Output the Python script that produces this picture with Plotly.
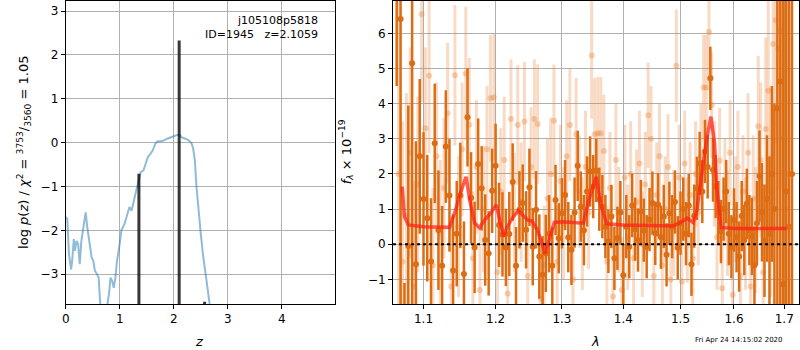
import numpy as np
import plotly.graph_objects as go

# ---------------- data: left panel (p(z)) ----------------
z_grid = [0, 0.03, 0.06, 0.10, 0.12, 0.15, 0.17, 0.20, 0.23, 0.26, 0.29, 0.33, 0.36, 0.37,
          0.40, 0.43, 0.48, 0.51, 0.54, 0.58, 0.61, 0.64, 0.66, 0.75, 0.77, 0.80, 0.83, 0.86,
          0.89, 0.92, 0.95, 1.00, 1.03, 1.09, 1.14, 1.18, 1.22, 1.26, 1.30, 1.35, 1.39, 1.44,
          1.47, 1.52, 1.57, 1.61, 1.66, 1.70, 1.76, 1.82, 1.88, 1.95, 2.01, 2.07, 2.11, 2.16,
          2.22, 2.28, 2.33, 2.36, 2.39, 2.42, 2.46, 2.50, 2.54, 2.60, 2.65, 2.68, 2.72]
log_pz = [-1.70, -1.74, -2.54, -2.89, -2.69, -2.20, -2.47, -2.24, -2.31, -2.77, -2.24, -1.93,
          -1.63, -1.59, -1.93, -2.24, -2.62, -2.69, -2.92, -3.00, -3.08, -3.70, -4.50, -4.50,
          -3.70, -3.46, -3.08, -3.15, -3.31, -3.08, -2.69, -2.31, -2.00, -1.85, -1.63, -1.47,
          -1.55, -1.32, -1.09, -0.86, -0.67, -0.63, -0.52, -0.33, -0.25, -0.18, -0.02, 0.03,
          0.03, 0.05, 0.09, 0.13, 0.15, 0.18, 0.17, 0.11, 0.09, 0.05, -0.02, -0.14, -0.40,
          -1.00, -1.63, -2.08, -2.54, -3.08, -3.53, -3.70, -4.20]
stem_z = [1.355, 2.10, 2.57]
stem_top = [-0.71, 2.33, -3.63]
stem_base = -10.0

# ---------------- data: right panel (spectrum) ----------------
lam_dark = [1.065, 1.070, 1.075, 1.080, 1.085, 1.090, 1.095, 1.100, 1.105, 1.110,
            1.115, 1.120, 1.125, 1.130, 1.135, 1.140, 1.145, 1.150, 1.155, 1.160,
            1.165, 1.170, 1.175, 1.180, 1.185, 1.190, 1.195, 1.200, 1.205, 1.210,
            1.215, 1.220, 1.225, 1.230, 1.235, 1.240, 1.245, 1.250, 1.255, 1.260,
            1.265, 1.270, 1.275, 1.280, 1.285, 1.290, 1.295, 1.300, 1.305, 1.310,
            1.315, 1.320, 1.325, 1.330, 1.335, 1.340, 1.345, 1.350, 1.355, 1.360,
            1.365, 1.370, 1.375, 1.380, 1.385, 1.390, 1.395, 1.400, 1.405, 1.410,
            1.415, 1.420, 1.425, 1.430, 1.435, 1.440, 1.445, 1.450, 1.455, 1.460,
            1.465, 1.470, 1.475, 1.480, 1.485, 1.490, 1.495, 1.500, 1.505, 1.510,
            1.515, 1.520, 1.525, 1.530, 1.535, 1.540, 1.545, 1.550, 1.555, 1.560,
            1.565, 1.570, 1.575, 1.580, 1.585, 1.590, 1.595, 1.600, 1.605, 1.610,
            1.615, 1.620, 1.625, 1.630, 1.635, 1.640, 1.645, 1.650, 1.655, 1.660,
            1.665, 1.670, 1.675, 1.680, 1.686, 1.692, 1.698, 1.704, 1.710, 1.716]
flux_dark = [7.50, 6.41, -3.00, -0.05, 5.15, -0.57, 2.50, 1.29, 0.74, -0.49,
             2.87, 0.40, -0.61, 2.78, 1.39, -0.75, 0.30, 1.39, -0.85, 3.61,
             1.32, -0.09, 2.28, 1.59, 0.12, -0.26, 1.52, 2.23, 0.55, 0.28,
             -0.09, 0.29, 1.77, -0.61, 0.98, 1.17, 0.41, 1.62, -0.07, 0.98,
             -0.35, -0.87, -0.26, 0.30, -0.61, 1.26, 0.17, 0.88, 1.40, 0.20,
             -0.16, 0.90, 2.23, 1.07, 0.40, 1.50, 2.07, 1.64, 2.10, 1.28,
             1.07, 0.50, 0.08, 0.79, -0.40, 0.17, 0.90, -0.88, 0.50, -0.07,
             1.10, 0.43, 0.12, 0.93, 0.40, -0.07, 0.70, 1.17, 0.31, 1.12,
             0.20, 0.79, -0.30, 0.88, 0.50, 1.20, -0.10, 0.60, 1.00, 0.30,
             1.10, -0.57, 0.80, 1.59, 2.30, 1.50, 2.64, 2.20, 4.72, 2.11,
             1.64, 0.90, 0.36, 1.00, 1.50, 0.30, -0.07, 0.69, 0.20, -0.35,
             0.80, 0.12, 1.15, 0.40, 0.22, -0.60, 0.60, 1.94, 0.91, 0.10,
             1.30, 0.30, 2.00, 1.00, 3.87, 4.63, -1.14, 1.50, 0.50, 2.00]
err_dark = [3.0, 9.0, 1.9, 4.0, 8.0, 3.5, 2.2, 1.9, 1.8, 1.8,
            1.7, 1.7, 1.7, 1.6, 1.6, 1.6, 1.5, 1.5, 1.5, 1.4,
            1.3, 1.3, 1.3, 1.2, 1.3, 1.2, 1.2, 1.2, 1.2, 1.2,
            1.1, 1.2, 1.1, 1.1, 1.1, 1.1, 1.1, 1.1, 1.1, 1.1,
            1.2, 1.1, 1.1, 1.1, 1.1, 1.0, 1.0, 1.0, 1.0, 1.0,
            1.0, 1.0, 1.0, 1.0, 1.0, 1.0, 1.0, 0.9, 0.9, 0.9,
            0.9, 0.9, 0.9, 0.9, 0.9, 0.9, 0.9, 0.9, 0.9, 0.9,
            0.9, 0.9, 0.9, 0.9, 0.9, 0.9, 0.9, 0.9, 0.9, 0.9,
            0.9, 0.9, 0.9, 0.9, 0.9, 0.9, 0.9, 0.9, 0.9, 0.9,
            0.9, 0.9, 0.9, 0.9, 0.9, 0.9, 0.9, 0.9, 0.9, 0.9,
            0.9, 0.9, 0.9, 0.9, 0.9, 0.9, 0.9, 0.9, 1.0, 1.0,
            1.0, 1.0, 1.0, 1.0, 1.1, 1.1, 1.2, 1.3, 1.4, 1.6,
            1.8, 2.2, 2.5, 3.0, 8.0, 10.0, 10.0, 12.0, 15.0, 15.0]

lam_light = [1.0675, 1.0725, 1.0775, 1.0825, 1.0875, 1.0925, 1.0975, 1.1025, 1.1075, 1.1125,
             1.1175, 1.1225, 1.1275, 1.1325, 1.1375, 1.1425, 1.1475, 1.1525, 1.1575, 1.1625,
             1.1675, 1.1725, 1.1775, 1.1825, 1.1875, 1.1925, 1.1975, 1.2025, 1.2075, 1.2125,
             1.2175, 1.2225, 1.2275, 1.2325, 1.2375, 1.2425, 1.2475, 1.2525, 1.2575, 1.2625,
             1.2675, 1.2725, 1.2775, 1.2825, 1.2875, 1.2925, 1.2975, 1.3025, 1.3075, 1.3125,
             1.3175, 1.3225, 1.3275, 1.3325, 1.3375, 1.3425, 1.3475, 1.3525, 1.3575, 1.3625,
             1.3675, 1.3725, 1.3775, 1.3825, 1.3875, 1.3925, 1.3975, 1.4025, 1.4075, 1.4125,
             1.4175, 1.4225, 1.4275, 1.4325, 1.4375, 1.4425, 1.4475, 1.4525, 1.4575, 1.4625,
             1.4675, 1.4725, 1.4775, 1.4825, 1.4875, 1.4925, 1.4975, 1.5025, 1.5075, 1.5125,
             1.5175, 1.5225, 1.5275, 1.5325, 1.5375, 1.5425, 1.5475, 1.5525, 1.5575, 1.5625,
             1.5675, 1.5725, 1.5775, 1.5825, 1.5875, 1.5925, 1.5975, 1.6025, 1.6075, 1.6125,
             1.6175, 1.6225, 1.6275, 1.6325, 1.6375, 1.6425, 1.6475, 1.6525, 1.6575, 1.6625,
             1.6675, 1.6725, 1.6775, 1.6825, 1.6875, 1.6925, 1.6975, 1.7025, 1.7075]
flux_light = [2.00, -0.50, 0.80, 2.60, -1.20, 1.70, 6.54, 3.30, 4.79, -0.60,
              2.50, 0.30, 1.60, 3.73, -1.20, 4.81, 0.50, 2.70, 4.86, 3.40,
              -0.40, 2.20, -1.30, 1.00, 2.70, 4.15, 4.18, -0.80, 1.50, 2.40,
              -1.40, 3.56, 0.90, 3.39, 1.20, 3.49, -0.90, 2.20, 3.56, 3.42,
              -1.55, -0.60, 1.30, 2.00, 3.51, -0.50, 1.80, 0.60, 2.50, 3.39,
              -1.00, 3.13, 1.50, 0.30, 2.20, 0.90, 5.37, 3.13, 3.16, 3.16,
              2.65, -0.50, 1.60, -1.49, 2.40, 0.70, -1.30, 1.90, 0.20, 2.00,
              -0.40, 1.20, 2.30, 0.00, 1.70, 3.67, 3.00, -0.90, 1.40, 2.50,
              -0.60, 1.00, 2.20, -1.00, 0.60, 5.08, 1.90, -1.06, 2.30, 0.40,
              1.40, -0.40, 2.00, 0.90, 2.50, 4.46, 4.46, 6.04, 3.96, 2.00,
              0.20, 2.38, -1.25, 1.50, 0.60, 2.60, -1.44, 1.00, 2.20, -0.90,
              1.50, 0.30, 2.60, -1.20, 1.30, 0.40, 3.36, 2.40, -0.80, 3.28,
              4.37, 1.50, 5.70, 6.37, 5.55, 6.09, 3.00, 1.00, 2.00]
err_light = [5.0, 4.0, 3.5, 3.0, 3.0, 2.5, 2.5, 2.3, 2.2, 2.2,
             2.1, 2.1, 2.0, 2.0, 2.0, 2.0, 2.0, 1.9, 1.9, 1.9,
             1.9, 1.9, 1.8, 1.8, 1.8, 1.8, 1.8, 1.8, 1.8, 1.8,
             1.7, 1.7, 1.7, 1.7, 1.7, 1.7, 1.7, 1.7, 1.7, 1.7,
             1.7, 1.7, 1.7, 1.6, 1.6, 1.6, 1.6, 1.6, 1.6, 1.6,
             1.6, 1.6, 1.6, 1.6, 1.6, 1.6, 1.8, 1.6, 1.6, 1.6,
             1.6, 1.6, 1.6, 1.6, 1.6, 1.5, 1.5, 1.5, 1.5, 1.5,
             1.5, 1.5, 1.5, 1.5, 1.5, 1.5, 1.5, 1.5, 1.5, 1.5,
             1.5, 1.5, 1.5, 1.5, 1.5, 1.6, 1.5, 1.5, 1.5, 1.5,
             1.5, 1.5, 1.5, 1.5, 1.5, 1.5, 1.5, 1.5, 1.5, 1.5,
             1.5, 1.5, 1.5, 1.5, 1.5, 1.5, 1.5, 1.5, 1.6, 1.6,
             1.6, 1.6, 1.7, 1.7, 1.8, 1.8, 2.0, 2.2, 2.4, 2.6,
             2.8, 3.0, 3.2, 3.5, 4.0, 4.5, 5.0, 6.0, 7.0]

lam_model = [1.0721, 1.075, 1.080, 1.100, 1.135, 1.142, 1.150, 1.158, 1.163, 1.170,
             1.177, 1.184, 1.193, 1.201, 1.206, 1.2117, 1.217, 1.226, 1.2337, 1.2395,
             1.247, 1.254, 1.262, 1.269, 1.2738, 1.280, 1.288, 1.300, 1.334, 1.343,
             1.355, 1.362, 1.372, 1.400, 1.468, 1.486, 1.500, 1.512, 1.523, 1.530,
             1.539, 1.548, 1.556, 1.563, 1.567, 1.575, 1.600, 1.705]
flux_model = [1.64, 0.79, 0.55, 0.50, 0.48, 0.88, 1.45, 1.92, 1.26, 0.60,
              0.47, 0.69, 0.88, 1.12, 0.69, 0.22, 0.50, 0.79, 0.95, 0.83,
              0.69, 0.66, 0.41, 0.03, -0.26, 0.12, 0.62, 0.64, 0.60, 1.26,
              1.92, 1.17, 0.58, 0.55, 0.52, 0.52, 0.62, 0.74, 0.62, 0.97,
              2.02, 2.97, 3.63, 2.87, 1.64, 0.48, 0.45, 0.45]

lam_ticks = [1.1, 1.2, 1.3, 1.4, 1.5, 1.6, 1.7]
lam_range = [1.0603, 1.7306]
z_range = [0, 4.99]
logp_range = [-3.68, 3.23]
flux_range = [-1.70, 6.92]

# ---------------- figure ----------------
FONT = "DejaVu Sans"
W, H = 800, 350
DARK = "#dd6c12"
LIGHT_BAR = "rgba(235,125,45,0.28)"
LIGHT_PT = "rgba(235,125,45,0.35)"

fig = go.Figure()

# left panel: p(z) curve
fig.add_trace(go.Scatter(x=z_grid, y=log_pz, mode="lines",
                         line=dict(color="rgba(31,119,180,0.5)", width=2),
                         xaxis="x", yaxis="y", hoverinfo="skip"))
# stems
sx, sy = [], []
for zz, tt in zip(stem_z, stem_top):
    sx += [zz, zz, None]
    sy += [stem_base, tt, None]
fig.add_trace(go.Scatter(x=sx, y=sy, mode="lines",
                         line=dict(color="rgba(0,0,0,0.78)", width=3),
                         xaxis="x", yaxis="y", hoverinfo="skip"))

# right panel: light spectrum
fig.add_trace(go.Scatter(x=lam_light, y=flux_light, mode="markers",
                         marker=dict(color=LIGHT_PT, size=6, line=dict(width=0)),
                         error_y=dict(type="data", array=err_light, color=LIGHT_BAR,
                                      thickness=3, width=0),
                         xaxis="x2", yaxis="y2", hoverinfo="skip"))
# dark spectrum
fig.add_trace(go.Scatter(x=lam_dark, y=flux_dark, mode="markers",
                         marker=dict(color=DARK, size=6, line=dict(width=0)),
                         error_y=dict(type="data", array=err_dark, color=DARK,
                                      thickness=2.5, width=0),
                         xaxis="x2", yaxis="y2", hoverinfo="skip"))
# model
fig.add_trace(go.Scatter(x=lam_model, y=flux_model, mode="lines",
                         line=dict(color="rgba(255,30,20,0.72)", width=3.5),
                         xaxis="x2", yaxis="y2", hoverinfo="skip"))
# zero line
fig.add_trace(go.Scatter(x=lam_range, y=[0, 0], mode="lines",
                         line=dict(color="black", width=2, dash="dot"),
                         xaxis="x2", yaxis="y2", hoverinfo="skip"))

ydom = [(H - 304) / H, (H - 1) / H]
axis_common = dict(showline=True, linecolor="black", linewidth=1, mirror=True,
                   showgrid=True, gridcolor="#b0b0b0", gridwidth=1,
                   ticks="outside", ticklen=4, tickwidth=1, tickcolor="black",
                   zeroline=False, tickfont=dict(family=FONT, size=12, color="black"))

fig.update_layout(
    width=W, height=H, margin=dict(l=0, r=0, t=0, b=0),
    paper_bgcolor="white", plot_bgcolor="white", showlegend=False,
    font=dict(family=FONT, color="black"),
    xaxis=dict(domain=[62 / W, 333 / W], range=z_range, tickvals=[0, 1, 2, 3, 4],
               anchor="y", **axis_common),
    yaxis=dict(domain=ydom, range=logp_range, tickvals=[-3, -2, -1, 0, 1, 2, 3],
               anchor="x", **axis_common),
    xaxis2=dict(domain=[391 / W, 799 / W], type="log",
                range=[np.log10(lam_range[0]), np.log10(lam_range[1])],
                tickvals=lam_ticks, ticktext=[f"{v:.1f}" for v in lam_ticks],
                anchor="y2", **axis_common),
    yaxis2=dict(domain=ydom, range=flux_range, tickvals=[-1, 0, 1, 2, 3, 4, 5, 6],
                anchor="x2", **axis_common),
)

ann = [
    dict(text="j105108p5818", x=318 / W, y=(H - 20) / H, xanchor="right", yanchor="middle",
         font=dict(size=11)),
    dict(text="ID=1945\u00a0\u00a0\u00a0z=2.1059", x=318 / W, y=(H - 34) / H, xanchor="right",
         yanchor="middle", font=dict(size=11)),
    dict(text="<i>z</i>", x=196 / W, y=(H - 341) / H, xanchor="center", yanchor="middle",
         font=dict(size=13)),
    dict(text="<i>λ</i>", x=594 / W, y=(H - 341) / H, xanchor="center", yanchor="middle",
         font=dict(size=13)),
    dict(text="log <i>p</i>(<i>z</i>) / <i>χ</i><sup>2</sup> = <sup>3753</sup>/<sub>3560</sub> = 1.05",
         x=20 / W, y=(H - 152) / H, xanchor="center", yanchor="middle", textangle=-90,
         font=dict(size=13)),
    dict(text="<i>f</i><sub><i>λ</i></sub> × 10<sup>−19</sup>",
         x=344 / W, y=(H - 152) / H, xanchor="center", yanchor="middle", textangle=-90,
         font=dict(size=13)),
    dict(text="Fri Apr 24 14:15:02 2020", x=785 / W, y=(H - 340) / H, xanchor="right",
         yanchor="middle", font=dict(size=7)),
]
for a in ann:
    a.update(xref="paper", yref="paper", showarrow=False)
    a["font"] = dict(family=FONT, color="black", **a["font"])
fig.update_layout(annotations=ann)

fig.write_html("out.html", config={"displayModeBar": False},
               post_script="document.body.style.margin='0';document.body.style.overflow='hidden';")
